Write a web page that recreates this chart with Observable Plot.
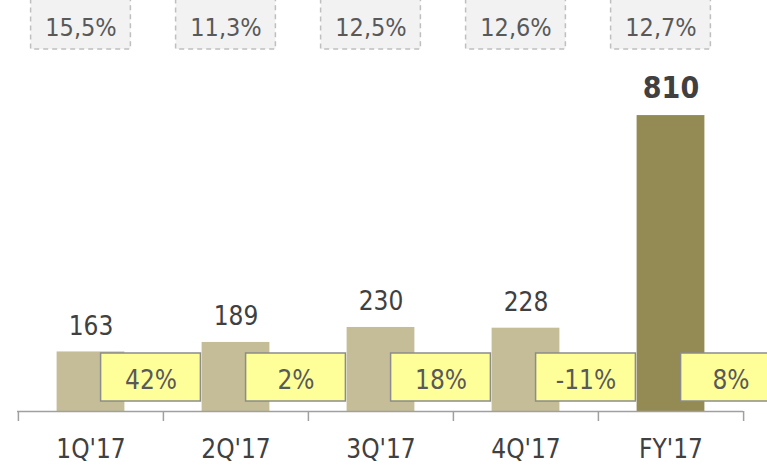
<!DOCTYPE html>
<html><head><meta charset="utf-8">
<script src="https://cdn.jsdelivr.net/npm/d3@7"></script>
<script src="https://cdn.jsdelivr.net/npm/@observablehq/plot@0.6"></script>
<style>body{margin:0;background:#fff} svg text{font-stretch:condensed}</style>
</head><body><div id="chart"></div>
<script>
const categories = ["1Q'17","2Q'17","3Q'17","4Q'17","FY'17"];
const values = [163, 189, 230, 228, 810];
const growth = ["42%", "2%", "18%", "-11%", "8%"];
const margins = ["15,5%", "11,3%", "12,5%", "12,6%", "12,7%"];
const isTotal = [false, false, false, false, true];

const data = categories.map((c, i) => ({cat: c, value: values[i], growth: growth[i], margin: margins[i], total: isTotal[i]}));
const quarters = data.filter(d => !d.total);
const totals = data.filter(d => d.total);

const W = 767, H = 465, mL = 17, mR = 24, mB = 54, mT = 0;
const yMax = 1125;
const k = (H - mB - mT) / yMax;           // px per unit
const px = p => p / k;                     // pixel distance above axis -> data units
const step = (W - mL - mR) / categories.length;
const half = step / 2;
const font = "'DejaVu Sans Condensed','DejaVu Sans',sans-serif";

const chart = Plot.plot({
  width: W, height: H,
  marginLeft: mL, marginRight: mR, marginTop: mT, marginBottom: mB,
  x: {domain: categories, padding: 0, axis: null},
  y: {domain: [0, yMax], axis: null},
  style: {fontFamily: font, background: "#fff", overflow: "visible"},
  marks: [
    Plot.barY(data, {x: "cat", y: "value", fill: d => d.total ? "#948A54" : "#C4BD97",
      insetLeft: (step - 68) / 2, insetRight: (step - 68) / 2}),
    Plot.text(quarters, {x: "cat", y: "value", text: d => String(d.value), dy: -17, lineAnchor: "bottom",
      fontSize: 26, fill: "#404040"}),
    Plot.text(totals, {x: "cat", y: "value", text: d => String(d.value), dy: -18, lineAnchor: "bottom",
      fontSize: 30, fontWeight: "bold", fill: "#404040"}),
    Plot.ruleY([0], {stroke: "#A0A0A0", strokeWidth: 1.5}),
    Plot.ruleX(data, {x: "cat", dx: -half, y1: 0, y2: -px(10), stroke: "#A0A0A0", strokeWidth: 1.5}),
    Plot.ruleX(totals, {x: "cat", dx: half, y1: 0, y2: -px(10), stroke: "#A0A0A0", strokeWidth: 1.5}),
    // yellow growth boxes
    Plot.barY(data, {x: "cat", y1: px(10), y2: px(58), dx: 60,
      insetLeft: (step - 100) / 2, insetRight: (step - 100) / 2,
      fill: "#FFFF99", stroke: "#8C8C8C", strokeWidth: 1.5}),
    Plot.text(data, {x: "cat", y: px(23), text: "growth", dx: 60, lineAnchor: "bottom",
      fontSize: 26, fill: "#595959"}),
    // dashed margin boxes
    Plot.barY(data, {x: "cat", y1: px(362), y2: px(414), dx: -10,
      insetLeft: (step - 100) / 2, insetRight: (step - 100) / 2,
      fill: "#F2F2F2", stroke: "#BFBFBF", strokeWidth: 1.5, strokeDasharray: "5,4"}),
    Plot.text(data, {x: "cat", y: px(376), text: "margin", dx: -10, lineAnchor: "bottom",
      fontSize: 25, fill: "#595959"}),
    // category labels
    Plot.text(data, {x: "cat", text: "cat", frameAnchor: "bottom", dy: 46, lineAnchor: "bottom",
      fontSize: 26, fill: "#404040"})
  ]
});
document.getElementById("chart").appendChild(chart);
</script>
</body></html>
